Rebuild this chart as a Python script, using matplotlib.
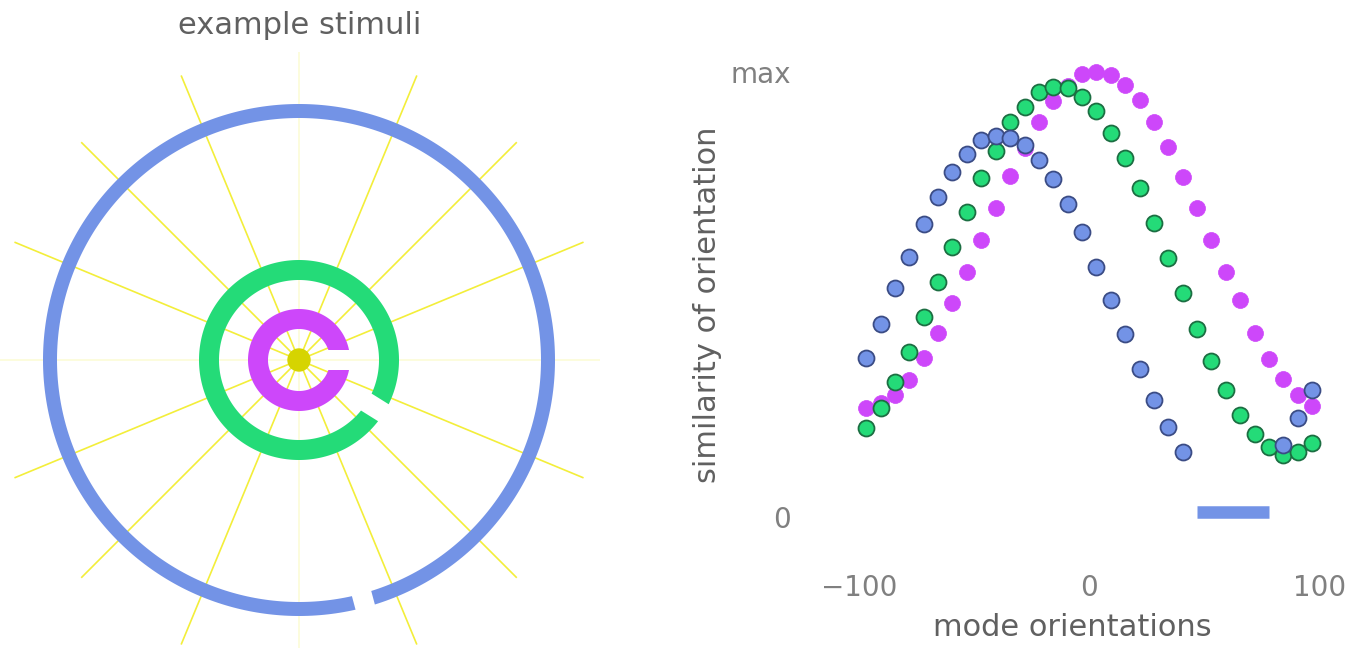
import numpy as np
import matplotlib
matplotlib.use("Agg")
import matplotlib.pyplot as plt
from matplotlib.patches import Polygon, Circle

# --- left panel: example stimuli (Landolt C rings + radial lines) ---
ring_colors = ["#7393e6", "#24db78", "#cd47fa"]
ring_radius = [249, 90, 41]
ring_stroke = [14, 20, 20]
ring_gap_dir = [-75, -32, 0]   # direction of the opening, degrees
gap_width = 20
ray_angles = [0, 22.5, 45, 67.5, 90, 112.5, 135, 157.5,
              180, 202.5, 225, 247.5, 270, 292.5, 315, 337.5]
ray_length = 308
dot_radius = 11

# --- right panel: responses vs orientation ---
orientations = [-96.9, -90.6, -84.4, -78.1, -71.9, -65.6, -59.4, -53.1,
                -46.9, -40.6, -34.4, -28.1, -21.9, -15.6, -9.4, -3.1,
                3.1, 9.4, 15.6, 21.9, 28.1, 34.4, 40.6, 46.9,
                53.1, 59.4, 65.6, 71.9, 78.1, 84.4, 90.6, 96.9]
blue_resp = [0.357, 0.434, 0.515, 0.584, 0.658, 0.719, 0.775, 0.816,
             0.847, 0.856, 0.852, 0.836, 0.802, 0.760, 0.703, 0.640,
             0.562, 0.488, 0.411, 0.333, 0.263, 0.202, 0.146, 0.011,
             0.011, 0.011, 0.011, 0.011, 0.011, 0.162, 0.222, 0.285]
green_resp = [0.200, 0.245, 0.303, 0.371, 0.449, 0.528, 0.607, 0.685,
              0.762, 0.822, 0.888, 0.921, 0.955, 0.966, 0.964, 0.944,
              0.912, 0.863, 0.807, 0.739, 0.661, 0.582, 0.503, 0.422,
              0.351, 0.285, 0.229, 0.187, 0.157, 0.139, 0.146, 0.166]
magenta_resp = [0.245, 0.256, 0.274, 0.308, 0.357, 0.413, 0.481, 0.551,
                0.622, 0.694, 0.766, 0.829, 0.888, 0.935, 0.969, 0.996,
                1.000, 0.993, 0.971, 0.937, 0.888, 0.831, 0.764, 0.694,
                0.622, 0.551, 0.488, 0.413, 0.355, 0.310, 0.274, 0.249]


def landolt_c(r, stroke, gap, direction):
    # annulus with a parallel-sided slot, opening towards `direction`
    r_out = r + stroke / 2
    r_in = r - stroke / 2
    h = gap / 2
    a_out = np.arcsin(h / r_out)
    a_in = np.arcsin(h / r_in)
    t_out = np.linspace(a_out, 2 * np.pi - a_out, 400)
    t_in = np.linspace(2 * np.pi - a_in, a_in, 400)
    xs = np.concatenate([r_out * np.cos(t_out), r_in * np.cos(t_in)])
    ys = np.concatenate([r_out * np.sin(t_out), r_in * np.sin(t_in)])
    d = np.deg2rad(direction)
    xr = xs * np.cos(d) - ys * np.sin(d)
    yr = xs * np.sin(d) + ys * np.cos(d)
    return np.c_[xr, yr]


W, H = 1361, 648
fig = plt.figure(figsize=(W / 100, H / 100), dpi=100)

# left axes, data units = pixels, centre of the stimulus at (0, 0)
ax1 = fig.add_axes([0, 0, 600 / W, 608 / H])
for a in ray_angles:
    t = np.deg2rad(a)
    # the horizontal / vertical lines come out very faint in the original
    alpha = 0.2 if a % 90 == 0 else 1.0
    ax1.plot([0, ray_length * np.cos(t)], [0, ray_length * np.sin(t)],
             color="#f3ee3a", lw=1.2, alpha=alpha, zorder=1,
             solid_capstyle="butt")
ax1.add_patch(Circle((0, 0), dot_radius, color="#d6d400", zorder=2))
for c, r, s, g in zip(ring_colors, ring_radius, ring_stroke, ring_gap_dir):
    ax1.add_patch(Polygon(landolt_c(r, s, gap_width, g), closed=True,
                          facecolor=c, edgecolor="none", zorder=3))
ax1.set_xlim(-299, 301)
ax1.set_ylim(-288, 320)
ax1.set_aspect("equal")
ax1.axis("off")
ax1.set_title("example stimuli", fontsize=22, color="#606060", pad=4)

# right axes
ax2 = fig.add_axes([805 / W, 88 / H, 535 / W, 510 / H])
ax2.plot(orientations, magenta_resp, "o", ms=11.5, mfc="#cd47fa",
         mec="#cd47fa", mew=0.5, zorder=2)
ax2.plot(orientations, green_resp, "o", ms=11.5, mfc="#24db78",
         mec="#1c6e42", mew=1.3, zorder=3)

blue = np.array(blue_resp)
ori = np.array(orientations)
low = blue < 0.05
ax2.plot(ori[~low], blue[~low], "o", ms=11.5, mfc="#7393e6",
         mec="#3b4c85", mew=1.3, zorder=4)
ax2.plot(ori[low], blue[low], "-", color="#7393e6", lw=9,
         solid_capstyle="butt", zorder=4)

ax2.set_xlim(-123.5, 109)
ax2.set_ylim(-0.097, 1.049)
ax2.set_xticks([-100, 0, 100])
ax2.set_yticks([0, 1])
ax2.set_yticklabels(["0", "max"])
ax2.tick_params(length=0, pad=10, labelsize=20, labelcolor="#808080")
for sp in ax2.spines.values():
    sp.set_visible(False)
ax2.set_xlabel("mode orientations", fontsize=22, color="#606060", labelpad=8)
ax2.set_ylabel("similarity of orientation", fontsize=22, color="#606060",
               labelpad=6)

fig.savefig("out.png", dpi=100)
